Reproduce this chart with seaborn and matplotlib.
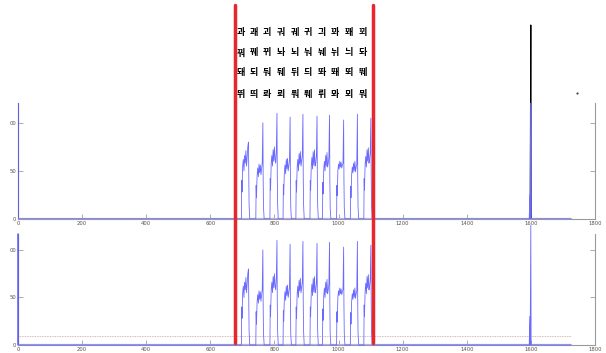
import matplotlib
matplotlib.use("Agg")
import numpy as np
import pandas as pd
import seaborn as sns
from matplotlib import pyplot as plt
from matplotlib.lines import Line2D
from matplotlib.transforms import blended_transform_factory

# data
cycle_starts = [697, 742, 786, 827, 867, 911, 950, 994, 1037, 1079]
cycle_offsets = [0, 1, 2, 4, 6, 8, 10, 12, 14, 16, 18, 20, 22, 23, 24, 26]
cycle_values = [
    [0, 40, 28, 55, 62, 50, 66, 58, 71, 55, 64, 75, 80, 45, 15, 0],
    [0, 35, 22, 45, 53, 44, 57, 48, 56, 46, 52, 58, 100, 40, 12, 0],
    [0, 42, 30, 58, 66, 55, 72, 60, 75, 62, 58, 70, 110, 45, 15, 0],
    [0, 36, 25, 48, 56, 47, 62, 52, 63, 50, 55, 60, 106, 42, 12, 0],
    [0, 40, 28, 54, 62, 50, 68, 57, 70, 55, 60, 66, 109, 45, 15, 0],
    [0, 40, 30, 55, 64, 52, 70, 56, 72, 55, 58, 65, 107, 44, 14, 0],
    [0, 38, 26, 52, 60, 50, 66, 55, 69, 54, 58, 64, 108, 42, 12, 0],
    [0, 35, 24, 50, 57, 52, 60, 54, 59, 53, 56, 58, 103, 40, 12, 0],
    [0, 34, 22, 46, 54, 48, 58, 50, 60, 49, 54, 57, 109, 42, 12, 0],
    [0, 42, 30, 56, 65, 54, 72, 60, 74, 58, 62, 68, 105, 45, 15, 0],
]
head_x = [0, 0, 0, 3]
head_top = [0, 121, 0, 0]
head_bot = [0, 117, 0, 0]
spike_x = [1595, 1597, 1598, 1600, 1601, 1603, 1725]
spike_top = [0, 25, 0, 202, 0, 0, 0]
spike_bot = [0, 30, 0, 126, 0, 0, 0]
baseline_end = 1725
level_bottom = 9
red_marks = [678, 1109]
stray_x = [1744]
stray_y = [131]

x_ticks = [0, 200, 400, 600, 800, 1000, 1200, 1400, 1600, 1800]
y_ticks = [0, 50, 100]
y_tick_labels = ["0", "50", "00"]

hangul_rows = [
    ["과", "괘", "괴", "궈", "궤", "귀", "긔", "꽈", "꽤", "꾀"],
    ["꿔", "꿰", "뀌", "놔", "뇌", "눠", "눼", "뉘", "늬", "돠"],
    ["돼", "되", "둬", "뒈", "뒤", "듸", "똬", "뙈", "뙤", "뛔"],
    ["뛰", "띄", "롸", "뢰", "뤄", "뤠", "뤼", "뫄", "뫼", "뭐"],
]

# assemble the two traces
burst_x, burst_y = [], []
for s, vals in zip(cycle_starts, cycle_values):
    burst_x += [s + o for o in cycle_offsets]
    burst_y += vals

top_df = pd.DataFrame({"x": head_x + burst_x + spike_x, "y": head_top + burst_y + spike_top})
bot_df = pd.DataFrame({"x": head_x + burst_x + spike_x, "y": head_bot + burst_y + spike_bot})

sns.set_theme(style="white")
plt.rcParams["font.family"] = ["DejaVu Sans"]

fig = plt.figure(figsize=(6.06, 3.53), dpi=100)
ax_top = fig.add_axes([0.0297, 0.380, 0.952, 0.329])
ax_bot = fig.add_axes([0.0297, 0.0227, 0.952, 0.315])

blue = "#6a6aff"
light_blue = "#b0b0ff"

for ax, df, ymax in [(ax_top, top_df, 121), (ax_bot, bot_df, 117)]:
    ax.plot([0, baseline_end], [0, 0], color=light_blue, lw=1.6, zorder=2)
    sns.lineplot(data=df, x="x", y="y", ax=ax, color=blue, lw=0.6,
                 estimator=None, sort=False, zorder=3)
    ax.set_xlim(0, 1800)
    ax.set_ylim(0, ymax)
    ax.set_xticks(x_ticks)
    ax.set_xticklabels([str(t) for t in x_ticks])
    ax.set_yticks(y_ticks)
    ax.set_yticklabels(y_tick_labels)
    ax.set_xlabel("")
    ax.set_ylabel("")
    ax.tick_params(direction="in", length=3.5, width=0.5, colors="#8a8a8a",
                   labelcolor="#5e5048", labelsize=3.8, pad=1.5,
                   left=True, right=True, bottom=True, top=False)
    ax.spines["top"].set_visible(False)
    for side in ["left", "right", "bottom"]:
        ax.spines[side].set_color("#9a9a9a")
        ax.spines[side].set_linewidth(0.8)
    ax.spines["left"].set_color("#333355")

# black part of the 1600 spike running above the top panel
ax_top.plot(spike_x[2:5], spike_top[2:5], color="black", lw=0.8, clip_on=False, zorder=1)
ax_top.scatter(stray_x, stray_y, s=0.25, color="#222222", clip_on=False)
ax_bot.lines[-1].set_clip_on(False)

# faint level line in the bottom panel
ax_bot.plot([0, baseline_end], [level_bottom, level_bottom], color="#c9a3a3",
            lw=0.6, ls=(0, (1, 1)), zorder=2)

# red markers across both panels
trans = blended_transform_factory(ax_bot.transData, fig.transFigure)
for xm in red_marks:
    fig.add_artist(Line2D([xm, xm], [0.028, 0.986], transform=trans,
                          color="#e8262b", lw=2.5, zorder=10))

# grid of hangul syllables
col_px = [241, 254, 267, 281, 295, 308, 322, 335, 349, 363]
row_px = [32, 53, 73, 94]
for r, row in enumerate(hangul_rows):
    for c, ch in enumerate(row):
        fig.text(col_px[c] / 606, 1 - row_px[r] / 353, ch, ha="center", va="center",
                 fontsize=6.5, fontweight="bold", color="black",
                 family=["Noto Sans CJK KR", "DejaVu Sans"])

fig.savefig("out.png", dpi=100)
